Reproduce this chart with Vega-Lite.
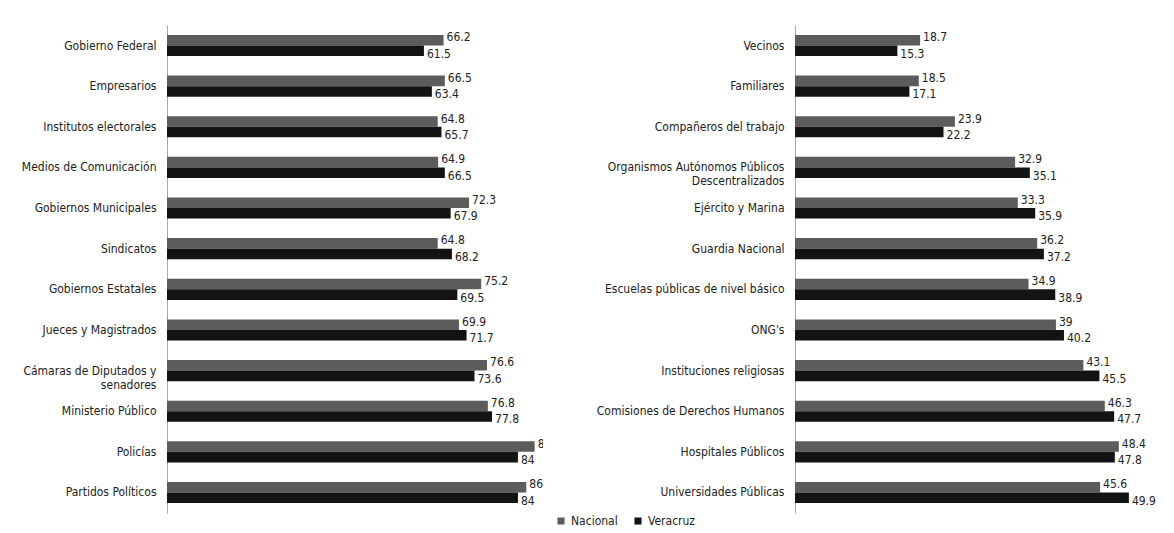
{
  "$schema": "https://vega.github.io/schema/vega-lite/v6.json",
  "padding": {"left": 4, "top": 25, "right": 0, "bottom": 0},
  "background": "white",
  "config": {
    "view": {"stroke": null},
    "font": "DejaVu Sans Condensed, Liberation Sans, sans-serif",
    "axisY": {
      "domainColor": "#a8a8a8",
      "domainWidth": 1,
      "ticks": false,
      "grid": false,
      "title": null,
      "labelFont": "DejaVu Sans Condensed, Liberation Sans, sans-serif",
      "labelFontSize": 12,
      "labelColor": "#222222",
      "labelPadding": 11,
      "labelLimit": 300
    },
    "legend": {
      "labelFont": "DejaVu Sans Condensed, Liberation Sans, sans-serif",
      "labelFontSize": 12,
      "labelColor": "#222222",
      "symbolType": "square",
      "symbolSize": 50,
      "symbolStrokeWidth": 0
    }
  },
  "datasets": {
    "left": [
      {"cat": "Gobierno Federal", "serie": "Nacional", "v": 66.2},
      {"cat": "Gobierno Federal", "serie": "Veracruz", "v": 61.5},
      {"cat": "Empresarios", "serie": "Nacional", "v": 66.5},
      {"cat": "Empresarios", "serie": "Veracruz", "v": 63.4},
      {"cat": "Institutos electorales", "serie": "Nacional", "v": 64.8},
      {"cat": "Institutos electorales", "serie": "Veracruz", "v": 65.7},
      {"cat": "Medios de Comunicación", "serie": "Nacional", "v": 64.9},
      {"cat": "Medios de Comunicación", "serie": "Veracruz", "v": 66.5},
      {"cat": "Gobiernos Municipales", "serie": "Nacional", "v": 72.3},
      {"cat": "Gobiernos Municipales", "serie": "Veracruz", "v": 67.9},
      {"cat": "Sindicatos", "serie": "Nacional", "v": 64.8},
      {"cat": "Sindicatos", "serie": "Veracruz", "v": 68.2},
      {"cat": "Gobiernos Estatales", "serie": "Nacional", "v": 75.2},
      {"cat": "Gobiernos Estatales", "serie": "Veracruz", "v": 69.5},
      {"cat": "Jueces y Magistrados", "serie": "Nacional", "v": 69.9},
      {"cat": "Jueces y Magistrados", "serie": "Veracruz", "v": 71.7},
      {"cat": "Cámaras de Diputados y senadores", "serie": "Nacional", "v": 76.6},
      {"cat": "Cámaras de Diputados y senadores", "serie": "Veracruz", "v": 73.6},
      {"cat": "Ministerio Público", "serie": "Nacional", "v": 76.8},
      {"cat": "Ministerio Público", "serie": "Veracruz", "v": 77.8},
      {"cat": "Policías", "serie": "Nacional", "v": 88},
      {"cat": "Policías", "serie": "Veracruz", "v": 84},
      {"cat": "Partidos Políticos", "serie": "Nacional", "v": 86},
      {"cat": "Partidos Políticos", "serie": "Veracruz", "v": 84}
    ],
    "right": [
      {"cat": "Vecinos", "serie": "Nacional", "v": 18.7},
      {"cat": "Vecinos", "serie": "Veracruz", "v": 15.3},
      {"cat": "Familiares", "serie": "Nacional", "v": 18.5},
      {"cat": "Familiares", "serie": "Veracruz", "v": 17.1},
      {"cat": "Compañeros del trabajo", "serie": "Nacional", "v": 23.9},
      {"cat": "Compañeros del trabajo", "serie": "Veracruz", "v": 22.2},
      {"cat": "Organismos Autónomos Públicos Descentralizados", "serie": "Nacional", "v": 32.9},
      {"cat": "Organismos Autónomos Públicos Descentralizados", "serie": "Veracruz", "v": 35.1},
      {"cat": "Ejército y Marina", "serie": "Nacional", "v": 33.3},
      {"cat": "Ejército y Marina", "serie": "Veracruz", "v": 35.9},
      {"cat": "Guardia Nacional", "serie": "Nacional", "v": 36.2},
      {"cat": "Guardia Nacional", "serie": "Veracruz", "v": 37.2},
      {"cat": "Escuelas públicas de nivel básico", "serie": "Nacional", "v": 34.9},
      {"cat": "Escuelas públicas de nivel básico", "serie": "Veracruz", "v": 38.9},
      {"cat": "ONG's", "serie": "Nacional", "v": 39},
      {"cat": "ONG's", "serie": "Veracruz", "v": 40.2},
      {"cat": "Instituciones religiosas", "serie": "Nacional", "v": 43.1},
      {"cat": "Instituciones religiosas", "serie": "Veracruz", "v": 45.5},
      {"cat": "Comisiones de Derechos Humanos", "serie": "Nacional", "v": 46.3},
      {"cat": "Comisiones de Derechos Humanos", "serie": "Veracruz", "v": 47.7},
      {"cat": "Hospitales Públicos", "serie": "Nacional", "v": 48.4},
      {"cat": "Hospitales Públicos", "serie": "Veracruz", "v": 47.8},
      {"cat": "Universidades Públicas", "serie": "Nacional", "v": 45.6},
      {"cat": "Universidades Públicas", "serie": "Veracruz", "v": 49.9}
    ]
  },
  "spacing": 42,
  "hconcat": [
    {
      "width": 376,
      "height": 488,
      "data": {"name": "left"},
      "encoding": {
        "y": {
          "field": "cat", "type": "nominal", "sort": null,
          "scale": {"paddingInner": 0.48, "paddingOuter": 0.245},
          "axis": {
            "minExtent": 163, "maxExtent": 163,
            "labelExpr": "datum.label == 'Cámaras de Diputados y senadores' ? ['Cámaras de Diputados y', 'senadores'] : datum.label"
          }
        },
        "yOffset": {"field": "serie", "type": "nominal", "sort": ["Nacional", "Veracruz"]},
        "x": {"field": "v", "type": "quantitative", "scale": {"domain": [0, 90]}, "axis": null}
      },
      "layer": [
        {
          "mark": {"type": "bar"},
          "encoding": {
            "color": {
              "field": "serie", "type": "nominal",
              "scale": {"domain": ["Nacional", "Veracruz"], "range": ["#5c5c5c", "#131313"]},
              "legend": {"title": null, "orient": "none", "direction": "horizontal", "legendX": 388, "legendY": 490, "columnPadding": 14}
            }
          }
        },
        {
          "transform": [{"filter": "datum.serie == 'Nacional'"}],
          "mark": {"type": "text", "align": "left", "baseline": "middle", "dx": 3, "dy": -3, "fontSize": 12, "color": "#222222", "clip": true},
          "encoding": {"text": {"field": "v", "type": "quantitative"}}
        },
        {
          "transform": [{"filter": "datum.serie == 'Veracruz'"}],
          "mark": {"type": "text", "align": "left", "baseline": "middle", "dx": 3, "dy": 3, "fontSize": 12, "color": "#222222", "clip": true},
          "encoding": {"text": {"field": "v", "type": "quantitative"}}
        }
      ]
    },
    {
      "width": 368,
      "height": 488,
      "data": {"name": "right"},
      "encoding": {
        "y": {
          "field": "cat", "type": "nominal", "sort": null,
          "scale": {"paddingInner": 0.48, "paddingOuter": 0.245},
          "axis": {
            "minExtent": 210, "maxExtent": 210,
            "labelExpr": "datum.label == 'Organismos Autónomos Públicos Descentralizados' ? ['Organismos Autónomos Públicos', 'Descentralizados'] : datum.label"
          }
        },
        "yOffset": {"field": "serie", "type": "nominal", "sort": ["Nacional", "Veracruz"]},
        "x": {"field": "v", "type": "quantitative", "scale": {"domain": [0, 55]}, "axis": null}
      },
      "layer": [
        {
          "mark": {"type": "bar"},
          "encoding": {
            "color": {
              "field": "serie", "type": "nominal",
              "scale": {"domain": ["Nacional", "Veracruz"], "range": ["#5c5c5c", "#131313"]},
              "legend": null
            }
          }
        },
        {
          "transform": [{"filter": "datum.serie == 'Nacional'"}],
          "mark": {"type": "text", "align": "left", "baseline": "middle", "dx": 3, "dy": -3, "fontSize": 12, "color": "#222222", "clip": true},
          "encoding": {"text": {"field": "v", "type": "quantitative"}}
        },
        {
          "transform": [{"filter": "datum.serie == 'Veracruz'"}],
          "mark": {"type": "text", "align": "left", "baseline": "middle", "dx": 3, "dy": 3, "fontSize": 12, "color": "#222222", "clip": true},
          "encoding": {"text": {"field": "v", "type": "quantitative"}}
        }
      ]
    }
  ]
}
